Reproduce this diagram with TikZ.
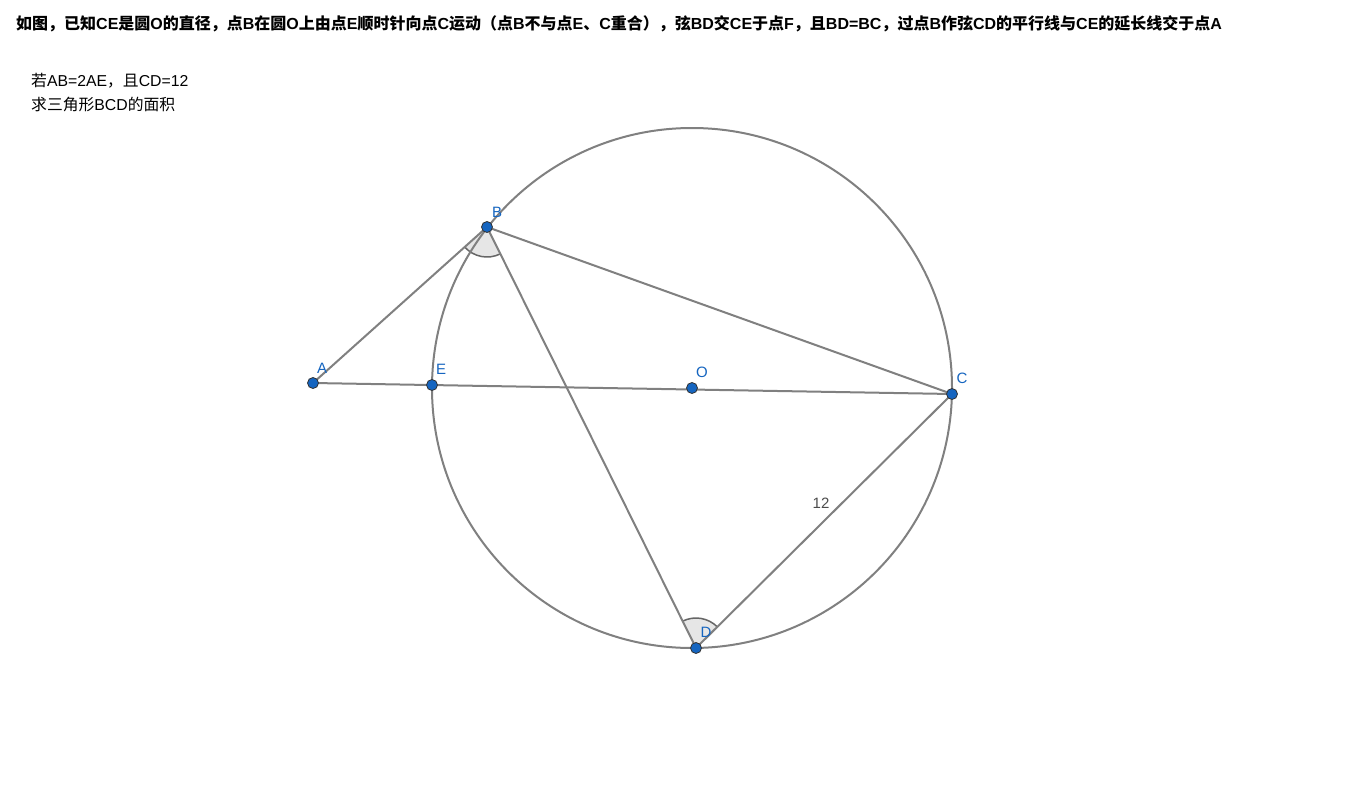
\documentclass[tikz,border=0pt]{standalone}
\usepackage{fontspec}
\setmainfont{Liberation Sans}
\newfontfamily\cjk{Noto Sans CJK SC}
\newfontfamily\latf{Liberation Sans}
\newcommand{\lt}[1]{{\latf #1}}
\definecolor{ptblue}{RGB}{21,101,192}
\definecolor{lngray}{RGB}{128,128,128}
\definecolor{fillg}{RGB}{230,230,230}
\begin{document}
\begin{tikzpicture}[x=1pt,y=-1pt,
  seg/.style={draw=lngray,line width=2pt},
  pt/.style={circle,fill=ptblue,draw=black!80,line width=0.8pt,minimum size=11pt,inner sep=0pt},
  lbl/.style={text=ptblue,font=\fontsize{15}{18}\selectfont,inner sep=0pt}]
\useasboundingbox[fill=white] (0,0) rectangle (1371,795);
\node[anchor=west,inner sep=0pt,font=\cjk\bfseries\fontsize{16}{18}\selectfont] (title) at (16,24) {如图，已知\lt{CE}是圆\lt{O}的直径，点\lt{B}在圆\lt{O}上由点\lt{E}顺时针向点\lt{C}运动（点\lt{B}不与点\lt{E}、\lt{C}重合），弦\lt{BD}交\lt{CE}于点\lt{F}，且\lt{BD=BC}，过点\lt{B}作弦\lt{CD}的平行线与\lt{CE}的延长线交于点\lt{A}};
\node[anchor=west,inner sep=0pt,font=\cjk\fontsize{15.8}{18}\selectfont] (q1) at (31,81) {若\lt{AB=2AE}，且\lt{CD=12}};
\node[anchor=west,inner sep=0pt,font=\cjk\fontsize{15.8}{18}\selectfont] (q2) at (31,105) {求三角形\lt{BCD}的面积};
\coordinate (A) at (313,383);
\coordinate (E) at (432,385);
\coordinate (O) at (692,388);
\coordinate (C) at (952,394);
\coordinate (B) at (487,227);
\coordinate (D) at (696,648);
% angle markers
\fill[fillg] (B) -- ++(221.9:30pt) arc[start angle=221.9,end angle=296.4,radius=30pt] -- cycle;
\draw[draw=black!60,line width=1.5pt] (B) ++(221.9:30pt) arc[start angle=221.9,end angle=296.4,radius=30pt];
\fill[fillg] (D) -- ++(44.8:30pt) arc[start angle=44.8,end angle=116.4,radius=30pt] -- cycle;
\draw[draw=black!60,line width=1.5pt] (D) ++(44.8:30pt) arc[start angle=44.8,end angle=116.4,radius=30pt];
% circle
\draw[seg] (O) circle[radius=260pt];
% segments
\draw[seg] (A) -- (C);
\draw[seg] (A) -- (B);
\draw[seg] (B) -- (C);
\draw[seg] (B) -- (D);
\draw[seg] (D) -- (C);
\node[text=black!70,font=\fontsize{15}{18}\selectfont,inner sep=0pt] (len) at (821,503) {12};
% points
\foreach \p in {A,E,O,C,B,D} \node[pt] (p\p) at (\p) {};
\node[lbl] (lA) at (322,368) {A};
\node[lbl] (lE) at (441,369) {E};
\node[lbl] (lO) at (702,372) {O};
\node[lbl] (lC) at (962,378) {C};
\node[lbl] (lB) at (497,212) {B};
\node[lbl] (lD) at (706,632) {D};
\end{tikzpicture}
\end{document}
